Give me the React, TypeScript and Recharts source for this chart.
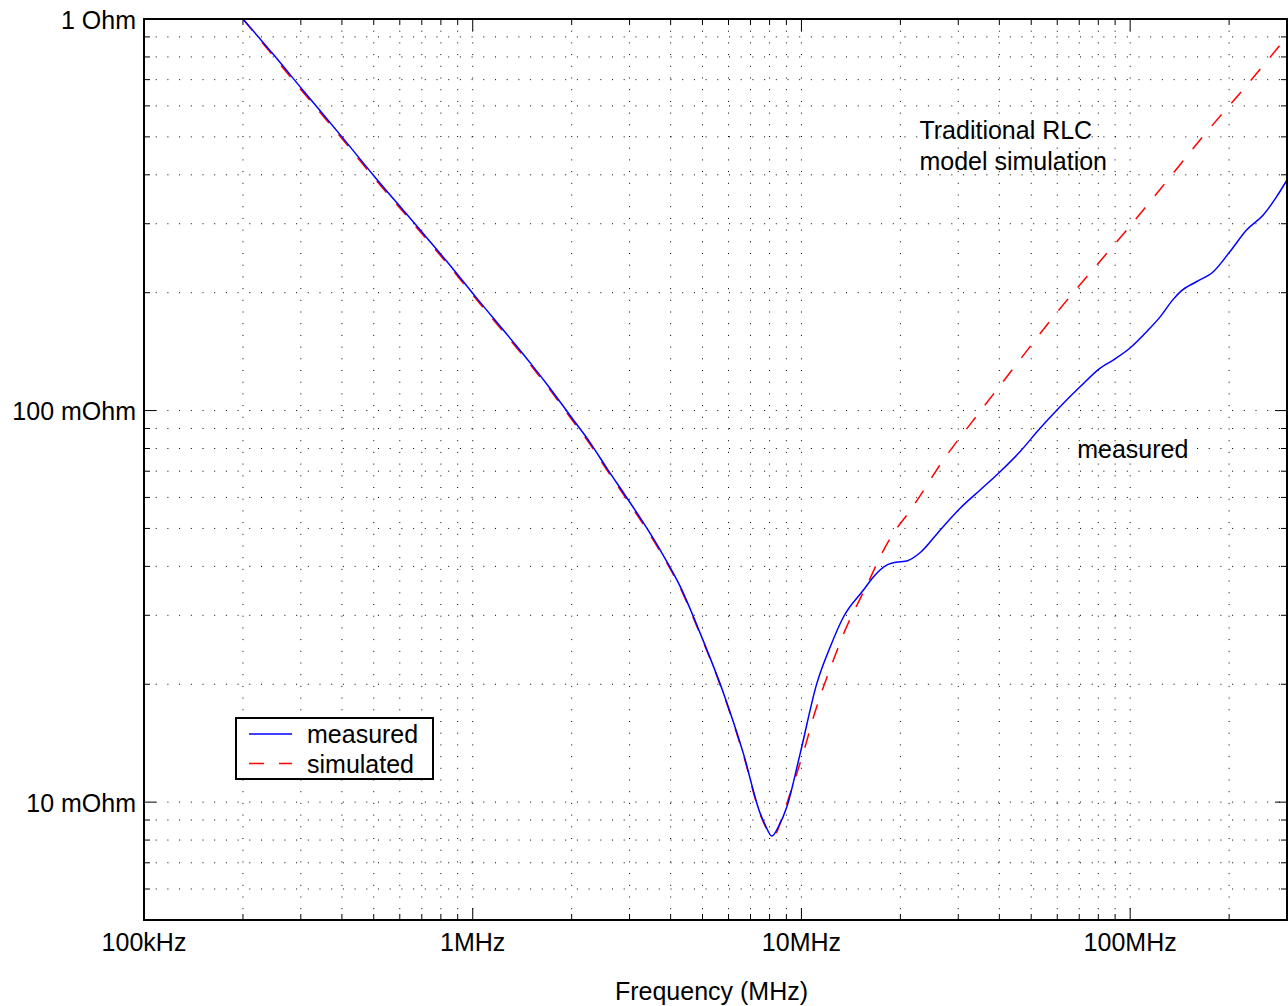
import React from 'react';
import { LineChart, Line, XAxis, YAxis, CartesianGrid, Legend, ReferenceDot, Label } from 'recharts';

const FONT = '"Liberation Sans", Arial, Helvetica, sans-serif';
const FS = 25;

// ---- data (frequency in Hz, impedance in Ohm) ----
const measuredFreq = [
  2.0e5, 2.48e5, 3.03e5, 4.0e5, 5.0e5, 6.7e5, 8.75e5, 1.03e6, 1.3e6, 1.5e6,
  1.72e6, 1.98e6, 2.28e6, 2.56e6, 2.95e6, 3.39e6, 3.72e6, 4.28e6, 4.92e6, 5.79e6,
  6.66e6, 7.49e6, 7.76e6, 8.13e6, 8.51e6, 9.03e6, 9.91e6, 1.114e7, 1.223e7, 1.342e7,
  1.544e7, 1.655e7, 1.818e7, 1.996e7, 2.092e7, 2.3e7, 2.64e7, 3.04e7, 3.49e7, 4.02e7,
  4.62e7, 5.32e7, 6.12e7, 7.04e7, 8.09e7, 8.88e7, 9.99e7, 1.13e8, 1.23e8, 1.35e8,
  1.42e8, 1.59e8, 1.79e8, 2.01e8, 2.26e8, 2.54e8, 2.79e8, 3.0e8,
];
const measuredZ = [
  1.0, 0.81, 0.661, 0.5, 0.398, 0.2985, 0.229, 0.1934, 0.1529, 0.132,
  0.1139, 0.097, 0.0826, 0.0712, 0.0597, 0.05, 0.044, 0.0355, 0.027, 0.019,
  0.0133, 0.00936, 0.00874, 0.00819, 0.00865, 0.00973, 0.0133, 0.0201, 0.0249, 0.0297,
  0.0348, 0.0376, 0.0403, 0.0411, 0.0413, 0.0434, 0.0495, 0.0563, 0.0626, 0.0698,
  0.0785, 0.0901, 0.1023, 0.115, 0.1282, 0.1346, 0.1445, 0.16, 0.173, 0.192,
  0.201, 0.2133, 0.2262, 0.2544, 0.2891, 0.3158, 0.3517, 0.388,
];

const simulatedFreq = [
  2.0e5, 2.48e5, 3.03e5, 4.0e5, 5.0e5, 6.7e5, 8.75e5, 1.03e6, 1.3e6, 1.5e6,
  1.72e6, 1.98e6, 2.28e6, 2.56e6, 2.95e6, 3.39e6, 3.72e6, 4.28e6, 4.92e6, 5.79e6,
  6.66e6, 7.49e6, 7.76e6, 8.13e6, 8.42e6, 8.61e6, 9.24e6, 1.026e7, 1.088e7, 1.167e7,
  1.251e7, 1.358e7, 1.474e7, 1.618e7, 1.735e7, 1.904e7, 2.14e7, 2.7e7, 3.49e7, 4.57e7,
  5.84e7, 7.38e7, 9.76e7, 1.276e8, 1.669e8, 2.208e8, 3.0e8,
];
const simulatedZ = [
  1.0, 0.802, 0.654, 0.495, 0.394, 0.2955, 0.2268, 0.1915, 0.1514, 0.1307,
  0.1128, 0.096, 0.0818, 0.0705, 0.0591, 0.0495, 0.0436, 0.0352, 0.0268, 0.0189,
  0.0132, 0.0093, 0.00868, 0.00818, 0.0084, 0.00882, 0.01052, 0.01385, 0.0165, 0.0197,
  0.02306, 0.0275, 0.0318, 0.0373, 0.0423, 0.0486, 0.0555, 0.0747, 0.0993, 0.1332,
  0.1736, 0.2197, 0.2891, 0.3804, 0.5027, 0.661, 0.901,
];

// ---- axes ----
const xDomain = [1e5, 3e8];
const yDomain = [0.005, 1];
const xTicks = [
  1e5, 2e5, 3e5, 4e5, 5e5, 6e5, 7e5, 8e5, 9e5,
  1e6, 2e6, 3e6, 4e6, 5e6, 6e6, 7e6, 8e6, 9e6,
  1e7, 2e7, 3e7, 4e7, 5e7, 6e7, 7e7, 8e7, 9e7,
  1e8, 2e8, 3e8,
];
const xMajorValues = [1e5, 1e6, 1e7, 1e8];
const xMajorLabels = ['100kHz', '1MHz', '10MHz', '100MHz'];
const yTicks = [
  0.005, 0.006, 0.007, 0.008, 0.009,
  0.01, 0.02, 0.03, 0.04, 0.05, 0.06, 0.07, 0.08, 0.09,
  0.1, 0.2, 0.3, 0.4, 0.5, 0.6, 0.7, 0.8, 0.9,
  1,
];
const yMajorValues = [0.01, 0.1, 1];
const yMajorLabels = ['10 mOhm', '100 mOhm', '1 Ohm'];

const seriesNames = ['measured', 'simulated'];
const xTitle = 'Frequency (MHz)';

// annotations (anchored in data coordinates)
const rlcNoteF = 2.285e7;
const rlcNoteZ = 0.5195;
const rlcNoteLines = ['Traditional RLC', 'model simulation'];
const measNoteF = 6.9e7;
const measNoteZ = 0.08;
const measNoteLines = ['measured'];

const measuredData = measuredFreq.map((f, i) => ({ f, z: measuredZ[i] }));
const simulatedData = simulatedFreq.map((f, i) => ({ f, z: simulatedZ[i] }));

const majorIndex = (v: number, majors: number[]) =>
  majors.findIndex((m) => Math.abs(Math.log10(v) - Math.log10(m)) < 1e-6);

const MAJOR_LEN = 12;
const MINOR_LEN = 6;

const textStyle = { fontSize: FS, fontFamily: FONT, fill: '#000' } as const;

function BottomTick(props: any) {
  const { x, y, payload } = props;
  const i = majorIndex(payload.value, xMajorValues);
  const len = i >= 0 ? MAJOR_LEN : MINOR_LEN;
  return (
    <g>
      <line x1={x} y1={y} x2={x} y2={y - len} stroke="#000" strokeWidth={1} />
      {i >= 0 && (
        <text x={x} y={y + 30.5} textAnchor="middle" {...textStyle}>
          {xMajorLabels[i]}
        </text>
      )}
    </g>
  );
}

function TopTick(props: any) {
  const { x, y, payload } = props;
  const i = majorIndex(payload.value, xMajorValues);
  const len = i >= 0 ? MAJOR_LEN : MINOR_LEN;
  return <line x1={x} y1={y} x2={x} y2={y + len} stroke="#000" strokeWidth={1} />;
}

function LeftTick(props: any) {
  const { x, y, payload } = props;
  const i = majorIndex(payload.value, yMajorValues);
  const len = i >= 0 ? MAJOR_LEN : MINOR_LEN;
  return (
    <g>
      <line x1={x} y1={y} x2={x + len} y2={y} stroke="#000" strokeWidth={1} />
      {i >= 0 && (
        <text x={x - 8} y={y + 9.5} textAnchor="end" {...textStyle}>
          {yMajorLabels[i]}
        </text>
      )}
    </g>
  );
}

function RightTick(props: any) {
  const { x, y, payload } = props;
  const i = majorIndex(payload.value, yMajorValues);
  const len = i >= 0 ? MAJOR_LEN : MINOR_LEN;
  return <line x1={x} y1={y} x2={x - len} y2={y} stroke="#000" strokeWidth={1} />;
}

function XTitle(props: any) {
  const vb = props.viewBox || {};
  const cx = (vb.x ?? 144) + (vb.width ?? 1143) / 2 - 4;
  const top = vb.y ?? 920;
  return (
    <text x={cx} y={top + 80} textAnchor="middle" {...textStyle}>
      {xTitle}
    </text>
  );
}

function makeNote(lines: string[]) {
  return (props: any) => {
    const vb = props.viewBox || {};
    const x = vb.x ?? props.x ?? 0;
    const y = vb.y ?? props.y ?? 0;
    return (
      <text x={x} y={y + 9} textAnchor="start" {...textStyle}>
        {lines.map((l, i) => (
          <tspan key={i} x={x} dy={i === 0 ? 0 : 30.5}>
            {l}
          </tspan>
        ))}
      </text>
    );
  };
}

function LegendBox(props: any) {
  const payload: any[] = props.payload || [];
  const items = seriesNames
    .map((n) => payload.find((p) => p.value === n))
    .filter(Boolean);
  return (
    <div
      style={{
        width: 195,
        height: 59,
        border: '2px solid #000',
        background: '#fff',
      }}
    >
      <svg width={195} height={59} style={{ display: 'block' }}>
        {items.map((it: any, i: number) => {
          const cy = 15 + i * 29.5;
          const dash = it.payload && it.payload.strokeDasharray;
          return (
            <g key={it.value}>
              <line
                x1={12}
                x2={55}
                y1={cy}
                y2={cy}
                stroke={it.color}
                strokeWidth={1.5}
                strokeDasharray={dash}
              />
              <text x={70} y={cy + 9.3} {...textStyle}>
                {it.value}
              </text>
            </g>
          );
        })}
      </svg>
    </div>
  );
}

const axisLineStyle = { stroke: '#000', strokeWidth: 2, strokeLinecap: 'square' as const };

export default function App() {
  return (
    <div
      style={{
        position: 'absolute',
        left: 0,
        top: 0,
        width: 1288,
        height: 1006,
        fontFamily: FONT,
        background: '#fff',
      }}
    >
      <LineChart width={1288} height={1006} margin={{ top: 18, right: 0, bottom: 0, left: 0 }}>
        <CartesianGrid stroke="#000" strokeWidth={1} strokeDasharray="1 10.7" fill="none" />
        <XAxis
          dataKey="f"
          type="number"
          scale="log"
          domain={xDomain}
          allowDataOverflow
          ticks={xTicks}
          interval={0}
          height={86}
          tickSize={0}
          tickMargin={0}
          tickLine={false}
          axisLine={axisLineStyle}
          tick={BottomTick}
        >
          <Label content={XTitle} />
        </XAxis>
        <XAxis
          xAxisId="top"
          orientation="top"
          dataKey="f"
          type="number"
          scale="log"
          domain={xDomain}
          allowDataOverflow
          ticks={xTicks}
          interval={0}
          height={1}
          tickSize={0}
          tickMargin={0}
          tickLine={false}
          axisLine={axisLineStyle}
          tick={TopTick}
        />
        <YAxis
          type="number"
          scale="log"
          domain={yDomain}
          allowDataOverflow
          ticks={yTicks}
          interval={0}
          width={144}
          tickSize={0}
          tickMargin={0}
          tickLine={false}
          axisLine={axisLineStyle}
          tick={LeftTick}
        />
        <YAxis
          yAxisId="right"
          orientation="right"
          type="number"
          scale="log"
          domain={yDomain}
          allowDataOverflow
          ticks={yTicks}
          interval={0}
          width={1}
          tickSize={0}
          tickMargin={0}
          tickLine={false}
          axisLine={axisLineStyle}
          tick={RightTick}
        />
        <Line
          data={simulatedData}
          dataKey="z"
          name="simulated"
          type="monotone"
          stroke="#ff0000"
          strokeWidth={1.5}
          strokeDasharray="15 15"
          dot={false}
          activeDot={false}
          isAnimationActive={false}
        />
        <Line
          data={measuredData}
          dataKey="z"
          name="measured"
          type="monotone"
          stroke="#0000ff"
          strokeWidth={1.5}
          dot={false}
          activeDot={false}
          isAnimationActive={false}
        />
        <ReferenceDot x={rlcNoteF} y={rlcNoteZ} r={0} fill="none" stroke="none" label={makeNote(rlcNoteLines)} />
        <ReferenceDot x={measNoteF} y={measNoteZ} r={0} fill="none" stroke="none" label={makeNote(measNoteLines)} />
        <Legend
          layout="vertical"
          align="center"
          verticalAlign="middle"
          wrapperStyle={{ left: 235, top: 717, width: 199, height: 63 }}
          content={LegendBox}
        />
      </LineChart>
    </div>
  );
}
